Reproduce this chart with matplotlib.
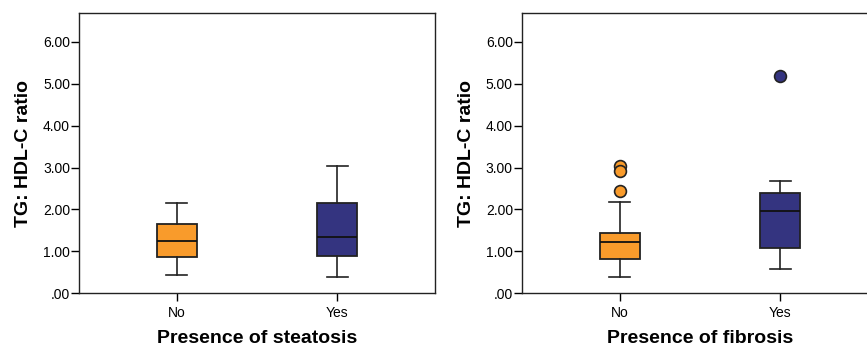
import matplotlib
matplotlib.use("Agg")
import matplotlib.pyplot as plt

plt.rcParams['font.family'] = ['Liberation Sans', 'DejaVu Sans']

groups = ["No", "Yes"]
colors = ["#F99B2B", "#343480"]

# steatosis panel: whislo, q1, median, q3, whishi, outliers
steat_lo = [0.44, 0.38]
steat_q1 = [0.87, 0.88]
steat_med = [1.25, 1.34]
steat_q3 = [1.66, 2.15]
steat_hi = [2.16, 3.04]
steat_out = [[], []]

# fibrosis panel
fib_lo = [0.38, 0.58]
fib_q1 = [0.83, 1.07]
fib_med = [1.22, 1.97]
fib_q3 = [1.43, 2.39]
fib_hi = [2.18, 2.69]
fib_out = [[3.05, 2.91, 2.43], [5.19]]

yticks = [0, 1, 2, 3, 4, 5, 6]
ytick_labels = [".00", "1.00", "2.00", "3.00", "4.00", "5.00", "6.00"]


def make_stats(lo, q1, med, q3, hi, out):
    stats = []
    for i in range(len(groups)):
        stats.append({"whislo": lo[i], "q1": q1[i], "med": med[i],
                      "q3": q3[i], "whishi": hi[i], "fliers": out[i],
                      "label": groups[i]})
    return stats


def draw(ax, stats, xlabel):
    bp = ax.bxp(stats, positions=[1, 2], widths=0.25, patch_artist=True,
                showfliers=True,
                boxprops=dict(edgecolor="#222222", linewidth=1.3),
                medianprops=dict(color="#111111", linewidth=1.3),
                whiskerprops=dict(color="#222222", linewidth=1.2),
                capprops=dict(color="#222222", linewidth=1.2),
                capwidths=0.13)
    for patch, c in zip(bp["boxes"], colors):
        patch.set_facecolor(c)
    for fl, c in zip(bp["fliers"], colors):
        fl.set(marker="o", markerfacecolor=c, markeredgecolor="#222222",
               markersize=8.5, markeredgewidth=1.2)
    ax.set_xlim(0.39, 2.61)
    ax.set_ylim(0, 6.68)
    ax.set_yticks(yticks)
    ax.set_yticklabels(ytick_labels)
    ax.set_xticks([1, 2])
    ax.set_xticklabels(groups)
    ax.tick_params(axis="both", direction="out", length=5.5, width=1,
                   labelsize=10, colors="black")
    ax.tick_params(axis="y", pad=1)
    ax.tick_params(axis="x", pad=4)
    for s in ax.spines.values():
        s.set_linewidth(1.0)
        s.set_color("#222222")
    ax.set_ylabel("TG: HDL-C ratio", fontsize=14, fontweight="bold", labelpad=8)
    ax.set_xlabel(xlabel, fontsize=14, fontweight="bold", labelpad=7)


fig = plt.figure(figsize=(8.67, 3.49), dpi=100)
ax1 = fig.add_axes([0.0911, 0.1596, 0.4106, 0.802])
ax2 = fig.add_axes([0.602, 0.1596, 0.4106, 0.802])

draw(ax1, make_stats(steat_lo, steat_q1, steat_med, steat_q3, steat_hi, steat_out),
     "Presence of steatosis")
draw(ax2, make_stats(fib_lo, fib_q1, fib_med, fib_q3, fib_hi, fib_out),
     "Presence of fibrosis")

fig.savefig("out.png", dpi=100)
